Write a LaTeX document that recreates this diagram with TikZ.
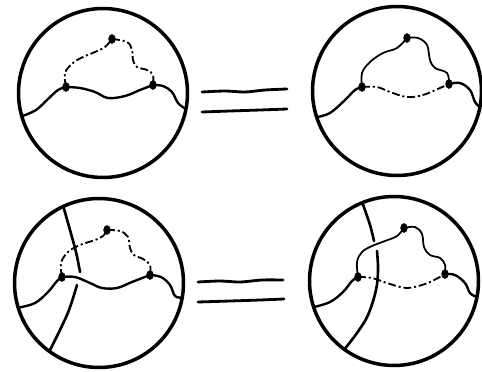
\documentclass[tikz,border=0pt]{standalone}
\usepackage{tikz}
\usetikzlibrary{shapes.geometric, positioning}

\begin{document}
\begin{tikzpicture}[
    x=0.02cm, y=-0.02cm,
    rim/.style={draw, circle, line width=2pt, minimum size=3.38cm, inner sep=0pt, outer sep=0pt},
    knot/.style={draw, ellipse, fill, minimum width=3.8pt, minimum height=5pt, inner sep=0pt},
    strand/.style={line width=1.35pt, line cap=round, line join=round},
    arc/.style={line width=1pt, line cap=round},
    broken/.style={line width=1.05pt, dash pattern=on 4.5pt off 1.6pt on 1.2pt off 1.6pt},
    cut/.style={line width=1.5pt, line cap=round},
    bar/.style={line width=1.6pt, line cap=round}
]
    \useasboundingbox (0,0) rectangle (482,371);

    % ================= DISCS =================
    \node[rim] (TL) at (103,93) {};
    \node[rim] (TR) at (397,91) {};
    \node[rim] (BL) at (99,283) {};
    \node[rim] (BR) at (394,281) {};

    % ================= TOP LEFT =================
    \node[knot] (tl_a) at (66,87) {};
    \node[knot] (tl_b) at (153,85) {};
    \node[knot] (tl_c) at (112,39) {};

    \draw[strand] plot[smooth, tension=0.6] coordinates {(TL.196) (36,110) (48,99) (58,90) (tl_a.center)};
    \draw[strand] plot[smooth, tension=0.6] coordinates {(tl_a.center) (80,88) (95,92) (108,98) (125,96) (140,90) (tl_b.center)};
    \draw[strand] plot[smooth, tension=0.6] coordinates {(tl_b.center) (163,86) (172,92) (178,103) (TL.349)};
    \draw[broken] plot[smooth, tension=0.6] coordinates {(tl_a.center) (65,73) (73,63) (83,57) (95,52) (105,47) (tl_c.center)};
    \draw[broken] plot[smooth, tension=0.6] coordinates {(tl_c.center) (127,42) (132,50) (133,60) (137,67) (147,70) (153,75) (tl_b.center)};

    % ================= TOP RIGHT =================
    \node[knot] (tr_a) at (362,87) {};
    \node[knot] (tr_b) at (449,84) {};
    \node[knot] (tr_c) at (407,38) {};

    \draw[strand] plot[smooth, tension=0.6] coordinates {(TR.198) (330,113) (345,100) (355,90) (tr_a.center)};
    \draw[strand] plot[smooth, tension=0.6] coordinates {(tr_b.center) (460,83) (470,90) (475,102) (TR.349)};
    \draw[broken] plot[smooth, tension=0.6] coordinates {(tr_a.center) (377,87) (390,92) (407,97) (423,95) (440,88) (tr_b.center)};
    \draw[arc] plot[smooth, tension=0.6] coordinates {(tr_a.center) (362,73) (370,62) (383,53) (397,48) (tr_c.center)};
    \draw[arc] plot[smooth, tension=0.6] coordinates {(tr_c.center) (418,38) (427,45) (430,60) (435,68) (447,73) (tr_b.center)};

    % ================= BOTTOM LEFT =================
    \node[knot] (bl_a) at (62,277) {};
    \node[knot] (bl_b) at (150,275) {};
    \node[knot] (bl_c) at (107,230) {};

    % crossing strand, passing under the wavy one
    \coordinate (bl_gap1) at (80,272);
    \coordinate (bl_gap2) at (77,285);
    \draw[cut] plot[smooth, tension=0.6] coordinates {(BL.115) (70,230) (76,252) (bl_gap1)};
    \draw[cut] plot[smooth, tension=0.6] coordinates {(bl_gap2) (69,310) (59,332) (BL.234)};

    \draw[strand] plot[smooth, tension=0.6] coordinates {(BL.197) (35,303) (48,292) (57,281) (bl_a.center)};
    \draw[strand] plot[smooth, tension=0.6] coordinates {(bl_a.center) (75,277) (90,283) (102,288) (117,288) (132,282) (bl_b.center)};
    \draw[strand] plot[smooth, tension=0.6] coordinates {(bl_b.center) (161,277) (170,285) (175,296) (BL.350)};
    \draw[broken] plot[smooth, tension=0.6] coordinates {(bl_a.center) (61,263) (68,252) (80,245) (95,240) (103,236) (bl_c.center)};
    \draw[broken] plot[smooth, tension=0.6] coordinates {(bl_c.center) (120,231) (128,237) (130,248) (134,255) (143,259) (150,265) (bl_b.center)};

    % ================= BOTTOM RIGHT =================
    \node[knot] (br_a) at (358,277) {};
    \node[knot] (br_b) at (445,274) {};
    \node[knot] (br_c) at (404,228) {};

    % crossing strand, passing under the arc
    \coordinate (br_gap1) at (374,241);
    \coordinate (br_gap2) at (377,251);
    \draw[cut] plot[smooth, tension=0.6] coordinates {(BR.112) (370,225) (br_gap1)};
    \draw[cut] plot[smooth, tension=0.6] coordinates {(br_gap2) (378,270) (376,290) (368,315) (357,333) (BR.234)};

    \draw[strand] plot[smooth, tension=0.6] coordinates {(BR.198) (330,302) (343,292) (352,281) (br_a.center)};
    \draw[strand] plot[smooth, tension=0.6] coordinates {(br_b.center) (455,275) (465,283) (470,293) (BR.349)};
    \draw[broken] plot[smooth, tension=0.6] coordinates {(br_a.center) (372,278) (390,284) (407,288) (425,284) (438,278) (br_b.center)};
    \draw[arc] plot[smooth, tension=0.6] coordinates {(br_a.center) (357,262) (362,252) (372,246) (385,241) (397,236) (br_c.center)};
    \draw[arc] plot[smooth, tension=0.6] coordinates {(br_c.center) (415,227) (422,234) (424,247) (430,255) (440,258) (445,265) (br_b.center)};

    % ================= EQUALS SIGNS =================
    \draw[bar] plot[smooth] coordinates {(202,92) (225,91) (245,92) (265,90) (287,89)};
    \draw[bar] plot[smooth] coordinates {(202,112) (230,111) (260,110) (287,109)};
    \draw[bar] plot[smooth] coordinates {(198,282) (220,281) (240,282) (262,280) (283,280)};
    \draw[bar] plot[smooth] coordinates {(198,302) (230,301) (260,300) (284,299)};

\end{tikzpicture}
\end{document}
